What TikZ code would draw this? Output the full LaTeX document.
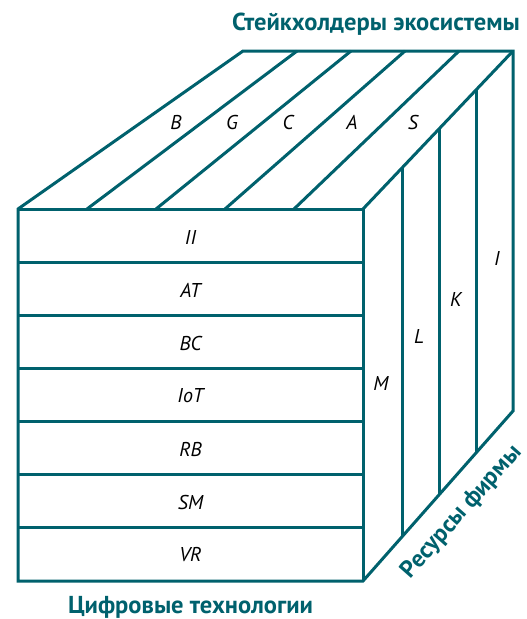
\documentclass[tikz,border=0pt]{standalone}
\usepackage{fontspec}
\setmainfont{PT Sans}
\usetikzlibrary{calc}
\definecolor{tealc}{HTML}{00616D}
\begin{document}
\begin{tikzpicture}[x=1pt,y=-1pt,
  edge/.style={draw=tealc,line width=3pt},
  lbl/.style={font=\fontsize{20}{20}\selectfont\itshape,text=black,inner sep=0pt},
  ttl/.style={font=\fontsize{24.5}{24.5}\selectfont\bfseries,text=tealc,inner sep=0pt}]
\useasboundingbox (0,0) rectangle (527,619);
% corners
\coordinate (FTL) at (18,209);
\coordinate (FTR) at (363,209);
\coordinate (FBL) at (18,581);
\coordinate (FBR) at (363,581);
\coordinate (BTL) at (243,51);
\coordinate (BTR) at (513,51);
\coordinate (BBR) at (513,411);
% outline
\draw[edge] (FBL) -- (FTL) -- (BTL) -- (BTR) -- (BBR) -- (FBR) -- cycle;
\draw[edge] (FTL) -- (FTR) -- (FBR);
\draw[edge] (FTR) -- (BTR);
% rows of front face
\foreach \k in {1,...,6}{
  \draw[edge] ($(FTL)!\k/7!(FBL)$) -- ($(FTR)!\k/7!(FBR)$);
}
% stripes of top face
\foreach \k in {1,...,4}{
  \draw[edge] ($(FTL)!\k/5!(FTR)$) -- ($(BTL)!\k/5!(BTR)$);
}
% stripes of right face
\foreach \f in {0.26,0.51,0.755}{
  \draw[edge] ($(FTR)!\f!(BTR)$) -- ($(FBR)!\f!(BBR)$);
}
% front labels
\node[lbl] (II)  at (190.5,237) {II};
\node[lbl] (AT)  at (190.5,290) {AT};
\node[lbl] (BC)  at (190.5,343) {BC};
\node[lbl] (IoT) at (190.5,396) {IoT};
\node[lbl] (RB)  at (190.5,449) {RB};
\node[lbl] (SM)  at (190.5,502) {SM};
\node[lbl] (VR)  at (190.5,555) {VR};
% top labels
\node[lbl] (B) at (176,122) {B};
\node[lbl] (G) at (232,122) {G};
\node[lbl] (C) at (288,122) {C};
\node[lbl] (A) at (352,122) {A};
\node[lbl] (S) at (413,122) {S};
% right labels
\node[lbl] (M) at (381,383) {M};
\node[lbl] (L) at (419,336) {L};
\node[lbl] (K) at (456,299) {K};
\node[lbl] (I) at (497,258) {I};
% titles
\node[ttl,anchor=east] (top) at (520,24) {Стейкхолдеры экосистемы};
\node[ttl] (bottom) at (190.5,607) {Цифровые технологии};
\node[ttl,rotate=48.6,font=\fontsize{24}{24}\selectfont\bfseries] (side) at (462,512) {Ресурсы фирмы};
\end{tikzpicture}
\end{document}
